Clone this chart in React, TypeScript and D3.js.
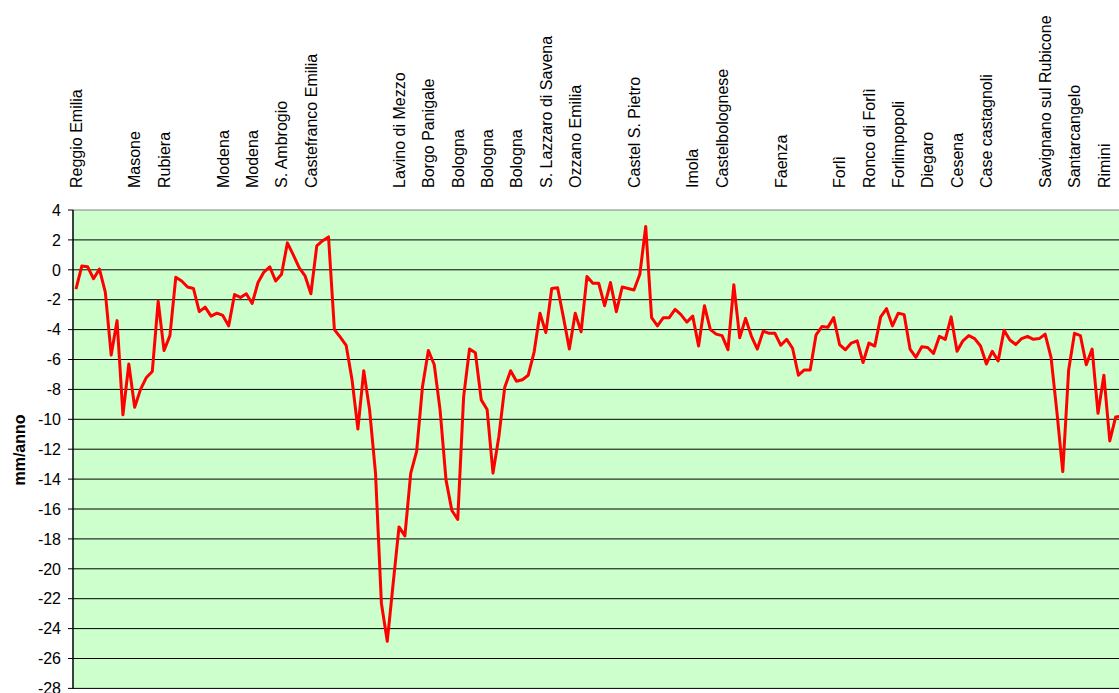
import * as d3 from 'd3'
import React from 'react'

// subsidence rate along the Reggio Emilia - Rimini levelling line (mm/anno)
const rates = [
  -1.3, 0.25, 0.2, -0.6, 0.05, -1.5, -5.7, -3.4, -9.7, -6.3,
  -9.2, -8.0, -7.2, -6.8, -2.1, -5.4, -4.4, -0.5, -0.75, -1.15,
  -1.25, -2.8, -2.5, -3.1, -2.9, -3.05, -3.75, -1.65, -1.85, -1.6,
  -2.25, -0.85, -0.15, 0.2, -0.75, -0.3, 1.8, 1.0, 0.15, -0.4,
  -1.6, 1.6, 1.95, 2.2, -4.0, -4.5, -5.05, -7.35, -10.65, -6.75,
  -9.4, -13.6, -22.3, -24.85, -21.0, -17.2, -17.8, -13.6, -12.15, -7.8,
  -5.4, -6.35, -9.4, -14.05, -16.1, -16.7, -8.5, -5.3, -5.55, -8.7,
  -9.35, -13.6, -11.15, -7.85, -6.75, -7.45, -7.35, -7.05, -5.5, -2.9,
  -4.2, -1.25, -1.2, -3.2, -5.3, -2.9, -4.15, -0.45, -0.9, -0.9,
  -2.4, -0.85, -2.8, -1.15, -1.25, -1.35, -0.3, 2.9, -3.2, -3.75,
  -3.2, -3.2, -2.65, -3.0, -3.5, -3.1, -5.1, -2.4, -4.0, -4.3,
  -4.4, -5.35, -1.0, -4.55, -3.25, -4.45, -5.3, -4.1, -4.25, -4.25,
  -5.05, -4.65, -5.25, -7.05, -6.7, -6.7, -4.35, -3.8, -3.85, -3.2,
  -5.0, -5.35, -4.9, -4.75, -6.2, -4.9, -5.1, -3.15, -2.6, -3.75,
  -2.9, -3.0, -5.3, -5.85, -5.15, -5.2, -5.6, -4.45, -4.65, -3.15,
  -5.45, -4.75, -4.4, -4.6, -5.1, -6.3, -5.45, -6.1, -4.05, -4.7,
  -5.0, -4.6, -4.45, -4.65, -4.6, -4.3, -5.85, -9.5, -13.5, -6.7,
  -4.25, -4.4, -6.35, -5.3, -9.6, -7.05, -11.45, -9.85, -9.8,
]

// one label every 5 benchmarks, blank where the original had none
const places = [
  'Reggio Emilia', '', 'Masone', 'Rubiera', '', 'Modena', 'Modena', 'S. Ambrogio',
  'Castefranco Emilia', '', '', 'Lavino di Mezzo', 'Borgo Panigale', 'Bologna',
  'Bologna', 'Bologna', 'S. Lazzaro di Savena', 'Ozzano Emilia', '', 'Castel S. Pietro',
  '', 'Imola', 'Castelbolognese', '', 'Faenza', '', 'Forlì', 'Ronco di Forlì',
  'Forlimpopoli', 'Diegaro', 'Cesena', 'Case castagnoli', '', 'Savignano sul Rubicone',
  'Santarcangelo', 'Rimini',
]

const yTicks = d3.range(4, -29, -2)
const labelStep = 5

const width = 1119
const height = 693
const left = 73
const top = 210
const bottom = 688.4
const step = 5.874
const right = left + rates.length * step
const font = 'Arial, "Liberation Sans", sans-serif'

const App = () => {
  const x = d3
    .scaleBand<number>()
    .domain(d3.range(rates.length))
    .range([left, right])
  const y = d3.scaleLinear().domain([-28, 4]).range([bottom, top])
  const cx = (i: number) => (x(i) as number) + x.bandwidth() / 2

  const line = d3
    .line<number>()
    .x((d, i) => cx(i))
    .y((d) => y(d))

  return (
    <svg
      width={width}
      height={height}
      style={{ position: 'absolute', left: 0, top: 0, background: '#fff' }}
      fontFamily={font}
    >
      <rect x={left} y={top} width={right - left} height={bottom - top} fill="#ccffcc" />
      {yTicks.map((t) => (
        <g key={t}>
          <line x1={left} x2={right} y1={y(t)} y2={y(t)} stroke={t === 4 ? '#808080' : '#000'} strokeWidth={1} />
          <line x1={left - 5} x2={left} y1={y(t)} y2={y(t)} stroke="#000" />
          <text x={61} y={y(t)} dy="0.36em" textAnchor="end" fontSize={16}>
            {t}
          </text>
        </g>
      ))}
      <line x1={left} x2={left} y1={top} y2={bottom} stroke="#000" strokeWidth={1.5} />
      <path d={line(rates) ?? ''} fill="none" stroke="#ff0000" strokeWidth={3} strokeLinejoin="round" />
      {places.map((p, k) =>
        p ? (
          <text
            key={k}
            transform={`translate(${cx(k * labelStep)} 188) rotate(-90)`}
            dy="0.36em"
            fontSize={16}
          >
            {p}
          </text>
        ) : null
      )}
      <text
        transform="translate(19 450) rotate(-90)"
        textAnchor="middle"
        dy="0.36em"
        fontSize={16}
        fontWeight="bold"
      >
        mm/anno
      </text>
    </svg>
  )
}

export default App
